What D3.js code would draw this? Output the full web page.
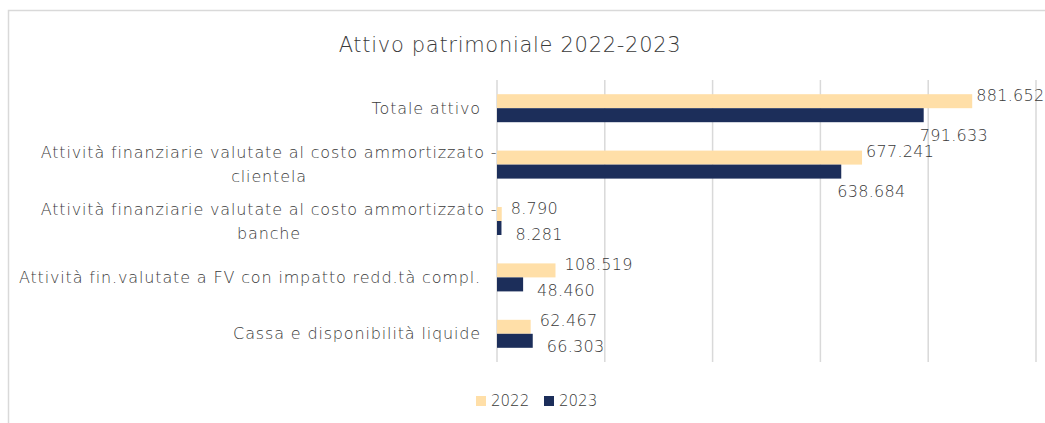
<!doctype html>
<html>
<head>
<meta charset="utf-8">
<title>Attivo patrimoniale 2022-2023</title>
<script src="https://d3js.org/d3.v7.min.js"></script>
<style>
    body { margin: 0; background: #fff; }
    svg text { font-family: "DejaVu Sans", sans-serif; fill: #3a3a3a; font-weight: 300; }
    .cat { font-size: 16px; letter-spacing: 0.85px; }
    .lbl { font-size: 16px; letter-spacing: 0.3px; }
</style>
</head>
<body>
<svg id="chart" width="1045" height="423"></svg>
<script>
// data
var categories = [
    ["Totale attivo"],
    ["Attività finanziarie valutate al costo ammortizzato -", "clientela"],
    ["Attività finanziarie valutate al costo ammortizzato -", "banche"],
    ["Attività fin.valutate a FV con impatto redd.tà compl."],
    ["Cassa e disponibilità liquide"]
];
var years = ["2022", "2023"];
var values2022 = [881652, 677241, 8790, 108519, 62467];
var values2023 = [791633, 638684, 8281, 48460, 66303];
var xTicks = [0, 200000, 400000, 600000, 800000, 1000000];

var colors = { "2022": "#FFDFA8", "2023": "#1C2E5A" };
var series = [values2022, values2023];

var svg = d3.select("#chart");

// chart frame
svg.append("rect")
    .attr("x", 8.5).attr("y", 10.5).attr("width", 1060).attr("height", 430)
    .style("fill", "none").style("stroke", "#d9d9d9").style("stroke-width", "1.5px");

svg.append("text")
    .attr("x", 510).attr("y", 52)
    .attr("text-anchor", "middle")
    .style("font-size", "21px").style("letter-spacing", "0.7px")
    .text("Attivo patrimoniale 2022-2023");

var x = d3.scaleLinear().domain([0, 1000000]).range([497, 1036]);
var y = d3.scaleBand().domain(d3.range(categories.length)).range([80, 362]);
var barH = 14;

// gridlines
svg.append("g").selectAll("line").data(xTicks).enter().append("line")
    .attr("x1", function (d) { return x(d); }).attr("x2", function (d) { return x(d); })
    .attr("y1", 80).attr("y2", 362)
    .style("stroke", "#d9d9d9").style("stroke-width", "1.5px");

var fmt = d3.formatLocale({ decimal: ",", thousands: ".", grouping: [3], currency: ["", ""] }).format(",d");

// bars + value labels
series.forEach(function (vals, s) {
    var g = svg.append("g");
    g.selectAll("rect").data(vals).enter().append("rect")
        .attr("x", x(0))
        .attr("y", function (d, i) { return y(i) + y.bandwidth() / 2 - barH + s * barH; })
        .attr("width", function (d) { return x(d) - x(0); })
        .attr("height", barH)
        .style("fill", colors[years[s]]);

    g.selectAll("text").data(vals).enter().append("text")
        .attr("class", "lbl")
        .attr("x", function (d) {
            var big = x(d) - x(0) > 200;
            if (s === 0) return big ? x(d) + 4 : x(d) + 9;
            return big ? x(d) - 4 : x(d) + 14;
        })
        .attr("y", function (d, i) {
            var cy = y(i) + y.bandwidth() / 2 - barH / 2 + s * barH;
            if (s === 0) return cy - 6;
            return (x(d) - x(0) > 200) ? cy + 20 : cy + 6;
        })
        .attr("dy", "0.35em")
        .text(function (d) { return fmt(d); });
});

// category labels
categories.forEach(function (lines, i) {
    var cy = y(i) + y.bandwidth() / 2;
    var t = svg.append("text").attr("class", "cat");
    if (lines.length === 1) {
        t.attr("x", 481).attr("y", cy).attr("dy", "0.35em")
            .attr("text-anchor", "end").text(lines[0]);
    } else {
        t.attr("text-anchor", "middle");
        lines.forEach(function (l, k) {
            t.append("tspan").attr("x", 269)
                .attr("y", cy + (k - (lines.length - 1) / 2) * 24)
                .attr("dy", "0.35em").text(l);
        });
    }
});

// legend
var legend = svg.append("g").selectAll("g").data(years).enter().append("g")
    .attr("transform", function (d, i) { return "translate(" + (476 + i * 68) + ",396)"; });
legend.append("rect").attr("width", 10).attr("height", 10)
    .style("fill", function (d) { return colors[d]; });
legend.append("text").attr("x", 15).attr("y", 5).attr("dy", "0.35em")
    .style("font-size", "15px").text(function (d) { return d; });
</script>
</body>
</html>
